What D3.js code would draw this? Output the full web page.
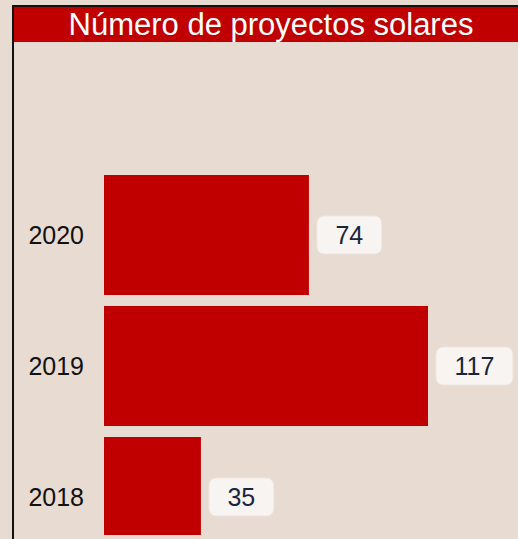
<!DOCTYPE html>
<html>
<head>
<meta charset="utf-8">
<script src="https://cdn.jsdelivr.net/npm/d3@7"></script>
<style>
  html, body { margin: 0; padding: 0; background: #e7dbd2; }
  svg { display: block; }
</style>
</head>
<body>
<svg></svg>
<script>
const width = 518;
const height = 539;

// datos
const years = ["2020", "2019", "2018"];
const projects = [74, 117, 35];
const title = "Número de proyectos solares";

let svg = d3.select("svg")
    .attr("width", width)
    .attr("height", height);

// fondo
svg.append("rect")
    .attr("width", width)
    .attr("height", height)
    .attr("fill", "#e7dbd2");

// clip para el area del grafico
svg.append("clipPath")
    .attr("id", "plot")
  .append("rect")
    .attr("x", 14)
    .attr("y", 42)
    .attr("width", width)
    .attr("height", 535 - 42);

// marco negro
svg.append("path")
    .attr("d", `M13,${height + 2} V6 H${width + 2}`)
    .attr("fill", "none")
    .attr("stroke", "#111")
    .attr("stroke-width", 2);

// barra del titulo
svg.append("rect")
    .attr("x", 14)
    .attr("y", 7)
    .attr("width", width)
    .attr("height", 35)
    .attr("fill", "#c00000");

svg.append("text")
    .attr("x", 271)
    .attr("y", 24)
    .attr("dy", "0.36em")
    .attr("text-anchor", "middle")
    .attr("fill", "#fff")
    .style("font-family", "Liberation Sans, Arial, sans-serif")
    .style("font-size", "31px")
    .text(title);

// escalas
const scaleX = d3.scaleLinear()
    .domain([0, 117])
    .range([104, 428]);

const scaleY = d3.scaleBand()
    .domain(years)
    .range([169.5, 562.5])
    .paddingInner(0.084)
    .paddingOuter(0.042);

const g = svg.append("g").attr("clip-path", "url(#plot)");

const data = years.map((y, i) => ({ year: y, value: projects[i] }));

// barras
g.selectAll(".bar")
    .data(data)
    .enter()
    .append("rect")
    .attr("x", scaleX(0))
    .attr("y", d => scaleY(d.year))
    .attr("width", d => scaleX(d.value) - scaleX(0))
    .attr("height", scaleY.bandwidth())
    .attr("fill", "#c00000");

// etiquetas del eje Y
const axisY = d3.axisLeft(scaleY).tickSize(0).tickPadding(0);
const axG = g.append("g")
    .attr("transform", "translate(84,0)")
    .call(axisY);
axG.select(".domain").remove();
axG.selectAll("text")
    .attr("fill", "#111")
    .attr("dy", "0.36em")
    .style("font-family", "Liberation Sans, Arial, sans-serif")
    .style("font-size", "25px");

// etiquetas de valor
const lab = g.selectAll(".lab")
    .data(data)
    .enter()
    .append("g")
    .attr("transform", d => `translate(${scaleX(d.value) + 8}, ${scaleY(d.year) + scaleY.bandwidth() / 2})`);

lab.append("text")
    .attr("fill", "#17263c")
    .attr("dy", "0.36em")
    .attr("text-anchor", "middle")
    .style("font-family", "Liberation Sans, Arial, sans-serif")
    .style("font-size", "25px")
    .text(d => d.value);

lab.each(function () {
  const t = d3.select(this).select("text");
  const w = t.node().getComputedTextLength() + 37;
  t.attr("x", w / 2);
  d3.select(this).insert("rect", "text")
      .attr("x", 0)
      .attr("y", -19)
      .attr("width", w)
      .attr("height", 38)
      .attr("rx", 7)
      .attr("fill", "#f8f4f1")
      .attr("stroke", "#efe6e0")
      .attr("stroke-width", 1);
});
</script>
</body>
</html>
